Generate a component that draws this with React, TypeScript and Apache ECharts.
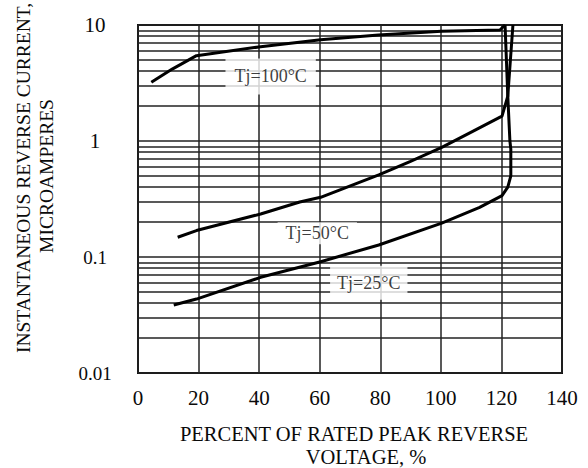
import React, { useEffect, useRef } from "react";
import * as echarts from "echarts";

// Percent of rated peak reverse voltage (x) and reverse current in microamperes (y)
const tj100X = [4.4, 11.3, 19.3, 40.5, 60.3, 79.4, 100.2, 119.5, 121.2];
const tj100Y = [3.21, 4.17, 5.44, 6.5, 7.47, 8.2, 8.83, 9.06, 10];

const tj50X = [13.1, 19.3, 40.5, 53.4, 60.3, 79.5, 89.8, 100.3, 110.2, 120.2, 122.1, 123.8];
const tj50Y = [0.148, 0.169, 0.235, 0.298, 0.327, 0.51, 0.665, 0.88, 1.2, 1.64, 2.44, 10];

const tj25X = [11.8, 19.3, 40.5, 60.3, 79.5, 100.3, 112.8, 120.2, 122.1, 123.1, 123.1, 122.8, 122.1, 121.2];
const tj25Y = [0.0386, 0.0434, 0.0668, 0.0911, 0.127, 0.196, 0.268, 0.338, 0.4, 0.5, 0.85, 1.0, 2.44, 10];

const curveNames = ["Tj=100°C", "Tj=50°C", "Tj=25°C"];
const labelX = [43.8, 59.2, 76.2];
const labelY = [3.6, 0.16, 0.06];

const xTicks = [0, 20, 40, 60, 80, 100, 120, 140];
const yTickLabels = ["0.01", "0.1", "1", "10"];
const minorGridValues = [
  0.02, 0.03, 0.04, 0.05, 0.06, 0.07, 0.08, 0.09,
  0.2, 0.3, 0.4, 0.5, 0.6, 0.7, 0.8, 0.9,
  2, 3, 4, 5, 6, 7, 8, 9,
];

const xTitle1 = "PERCENT OF RATED PEAK REVERSE";
const xTitle2 = "VOLTAGE, %";
const yTitle1 = "INSTANTANEOUS REVERSE CURRENT,";
const yTitle2 = "MICROAMPERES";

const zip = (xs: number[], ys: number[]) => xs.map((x, i) => [x, ys[i]]);

export default function App() {
  const ref = useRef<HTMLDivElement>(null);
  useEffect(() => {
    document.body.style.margin = "0";
    const chart = echarts.init(ref.current!, null, { renderer: "svg" });
    const font = "'Liberation Serif', 'Times New Roman', serif";
    const ink = "#0a0a0a";
    const gridColor = "#222";
    const curveStyle = { color: "#000", width: 3 };
    const paddings = [
      [9, 9],
      [2, 8],
      [8, 7],
    ];
    chart.setOption({
      animation: false,
      backgroundColor: "#fff",
      textStyle: { fontFamily: font, color: ink },
      grid: {
        left: 138,
        top: 25,
        right: 26,
        bottom: 95,
        containLabel: false,
        outerBoundsMode: "none",
        show: true,
        borderColor: "#111",
        borderWidth: 2,
        backgroundColor: "transparent",
      },
      xAxis: {
        type: "value",
        min: xTicks[0],
        max: xTicks[xTicks.length - 1],
        interval: 20,
        axisLine: { show: false },
        axisTick: { show: false },
        axisLabel: {
          margin: 14,
          fontFamily: font,
          fontSize: 21,
          color: ink,
          formatter: (v: number) => (xTicks.includes(v) ? String(v) : ""),
        },
        splitLine: { show: true, lineStyle: { color: gridColor, width: 1.5 } },
      },
      yAxis: {
        type: "log",
        logBase: 10,
        min: 0.01,
        max: 10,
        axisLine: { show: false },
        axisTick: { show: false },
        axisLabel: {
          margin: 43,
          align: "center",
          fontFamily: font,
          color: ink,
          formatter: (v: number) => {
            const idx = Math.round(Math.log10(v)) + 2;
            const t = yTickLabels[idx] ?? String(v);
            return v >= 1 ? `{a|${t}}` : `{b|${t}}`;
          },
          rich: {
            a: { fontFamily: font, fontSize: 21, color: ink },
            b: { fontFamily: font, fontSize: 19, color: ink },
          },
        },
        splitLine: { show: true, lineStyle: { color: gridColor, width: 1.5 } },
      },
      graphic: [
        {
          type: "text",
          x: 354,
          y: 434,
          style: {
            text: xTitle1,
            fontFamily: font,
            fontSize: 20.5,
            fill: ink,
            align: "center",
            verticalAlign: "middle",
          },
        },
        {
          type: "text",
          x: 366,
          y: 457,
          style: {
            text: xTitle2,
            fontFamily: font,
            fontSize: 20.5,
            fill: ink,
            align: "center",
            verticalAlign: "middle",
          },
        },
        {
          type: "text",
          x: 23,
          y: 178,
          rotation: Math.PI / 2,
          style: {
            text: yTitle1,
            fontFamily: font,
            fontSize: 19.5,
            fill: ink,
            align: "center",
            verticalAlign: "middle",
          },
        },
        {
          type: "text",
          x: 46,
          y: 176,
          rotation: Math.PI / 2,
          style: {
            text: yTitle2,
            fontFamily: font,
            fontSize: 19.5,
            fill: ink,
            align: "center",
            verticalAlign: "middle",
          },
        },
      ],
      series: [
        {
          name: curveNames[0],
          type: "line",
          data: zip(tj100X, tj100Y),
          showSymbol: false,
          symbol: "none",
          lineStyle: curveStyle,
          z: 3,
          markLine: {
            silent: true,
            symbol: ["none", "none"],
            label: { show: false },
            lineStyle: { color: gridColor, width: 1.5, type: "solid" },
            data: minorGridValues.map((v) => ({ yAxis: v })),
            z: 1,
          },
        },
        {
          name: curveNames[1],
          type: "line",
          data: zip(tj50X, tj50Y),
          showSymbol: false,
          symbol: "none",
          lineStyle: curveStyle,
          z: 3,
        },
        {
          name: curveNames[2],
          type: "line",
          data: zip(tj25X, tj25Y),
          showSymbol: false,
          symbol: "none",
          lineStyle: curveStyle,
          z: 3,
        },
        {
          type: "scatter",
          symbolSize: 0,
          z: 10,
          silent: true,
          data: curveNames.map((n, i) => ({
            value: [labelX[i], labelY[i]],
            name: n,
            label: { padding: paddings[i] },
          })),
          label: {
            show: true,
            position: "inside",
            formatter: (p: any) => p.name,
            fontFamily: font,
            fontSize: 18,
            color: ink,
            backgroundColor: "#fff",
          },
        },
      ],
    });
    return () => chart.dispose();
  }, []);
  return (
    <div
      ref={ref}
      style={{ position: "fixed", left: 0, top: 0, width: 588, height: 468 }}
    />
  );
}
